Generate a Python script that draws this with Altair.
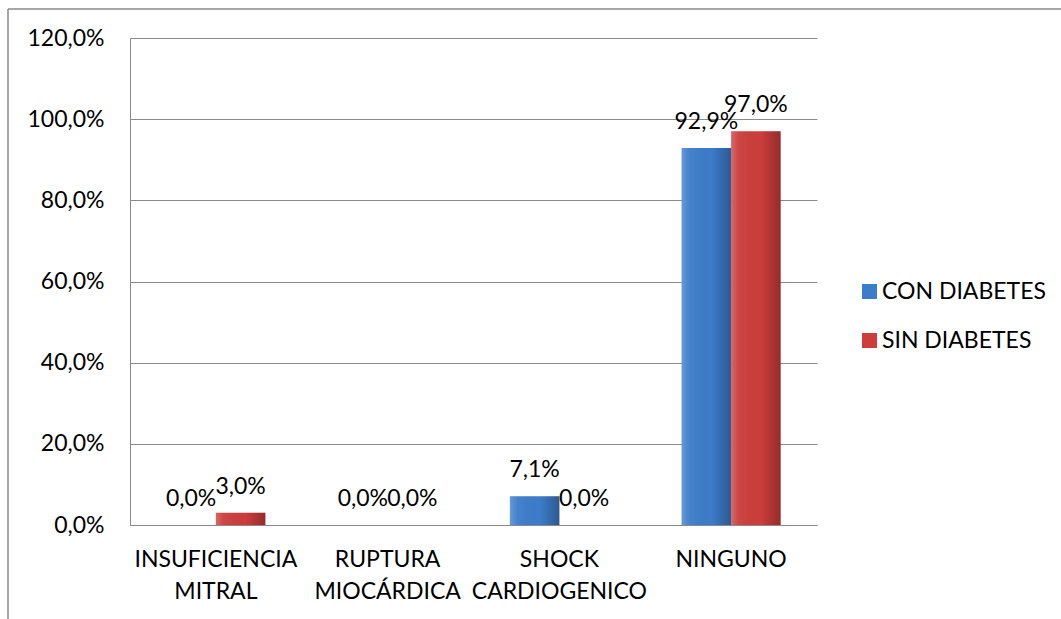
import altair as alt
import pandas as pd

categories = ["INSUFICIENCIA MITRAL", "RUPTURA MIOCÁRDICA", "SHOCK CARDIOGENICO", "NINGUNO"]
series = ["CON DIABETES", "SIN DIABETES"]
con_diabetes = [0.0, 0.0, 7.1, 92.9]
sin_diabetes = [3.0, 0.0, 0.0, 97.0]
colors = ["#3d7cca", "#cc3d3b"]
y_ticks = [0, 20, 40, 60, 80, 100, 120]

rows = []
for i, c in enumerate(categories):
    rows.append({"cat": c, "serie": series[0], "v": con_diabetes[i]})
    rows.append({"cat": c, "serie": series[1], "v": sin_diabetes[i]})
df = pd.DataFrame(rows)

FONT = "Lato"
FS = 23
GRID = "#8a8a8a"

x_enc = alt.X(
    "cat:N", sort=categories, title=None,
    scale=alt.Scale(paddingInner=0.4236, paddingOuter=0.2118),
    axis=alt.Axis(labelExpr="split(datum.label, ' ')", labelAngle=0, labelFont=FONT,
                  labelFontSize=FS, labelColor="#000", labelLineHeight=32, labelPadding=23,
                  ticks=False, domain=True, domainColor=GRID, labelBaseline="top"),
)
xo_enc = alt.XOffset("serie:N", sort=series, scale=alt.Scale(paddingInner=0, paddingOuter=0))
y_enc = alt.Y(
    "v:Q", title=None, scale=alt.Scale(domain=[0, 120], nice=False),
    axis=alt.Axis(values=y_ticks, labelExpr="replace(format(datum.value, '.1f'), '.', ',') + '%'",
                  labelFont=FONT, labelFontSize=FS, labelColor="#000", labelPadding=26,
                  ticks=False, domain=True, domainColor=GRID, grid=True, gridColor=GRID,
                  labelBaseline="middle"),
)

base = alt.Chart(df)

bars = base.mark_bar().encode(
    x=x_enc, xOffset=xo_enc, y=y_enc,
    color=alt.Color("serie:N", sort=series, scale=alt.Scale(domain=series, range=colors),
                    legend=alt.Legend(title=None, orient="none", legendX=728, legendY=242,
                                      symbolType="square", symbolSize=225, symbolStrokeWidth=0,
                                      labelFont=FONT, labelFontSize=FS, labelColor="#000",
                                      labelOffset=1, rowPadding=25, labelLimit=400)),
)

shade = base.mark_bar(
    fill=alt.LinearGradient(
        gradient="linear", x1=0, x2=1, y1=0, y2=0,
        stops=[alt.GradientStop(color="rgba(255,255,255,0.22)", offset=0),
               alt.GradientStop(color="rgba(255,255,255,0.05)", offset=0.15),
               alt.GradientStop(color="rgba(0,0,0,0.0)", offset=0.6),
               alt.GradientStop(color="rgba(0,0,0,0.28)", offset=1)]),
).encode(x=x_enc, xOffset=xo_enc, y=y_enc)

labels = base.transform_calculate(
    lab="replace(format(datum.v, '.1f'), '.', ',') + '%'"
).mark_text(baseline="alphabetic", dy=-19, font=FONT, fontSize=FS, color="#000").encode(
    x=x_enc, xOffset=xo_enc, y=y_enc, text="lab:N"
)

dummy = alt.Chart(pd.DataFrame({"a": [0]}))
border_top = dummy.mark_rule(color="#8a8a8a", strokeWidth=1.5).encode(
    x=alt.value(-122), x2=alt.value(935), y=alt.value(-29))
border_left = dummy.mark_rule(color="#8a8a8a", strokeWidth=1.5).encode(
    x=alt.value(-122), y=alt.value(-29), y2=alt.value(590))

chart = alt.layer(bars, shade, labels, border_top, border_left).properties(
    width=687, height=487,
    padding={"left": 130, "top": 38, "right": 244, "bottom": 94},
    autosize=alt.AutoSizeParams(type="none"),
    background="white",
).configure_view(stroke=None)

chart.save("out.html", embed_options={"renderer": "svg", "actions": False})
